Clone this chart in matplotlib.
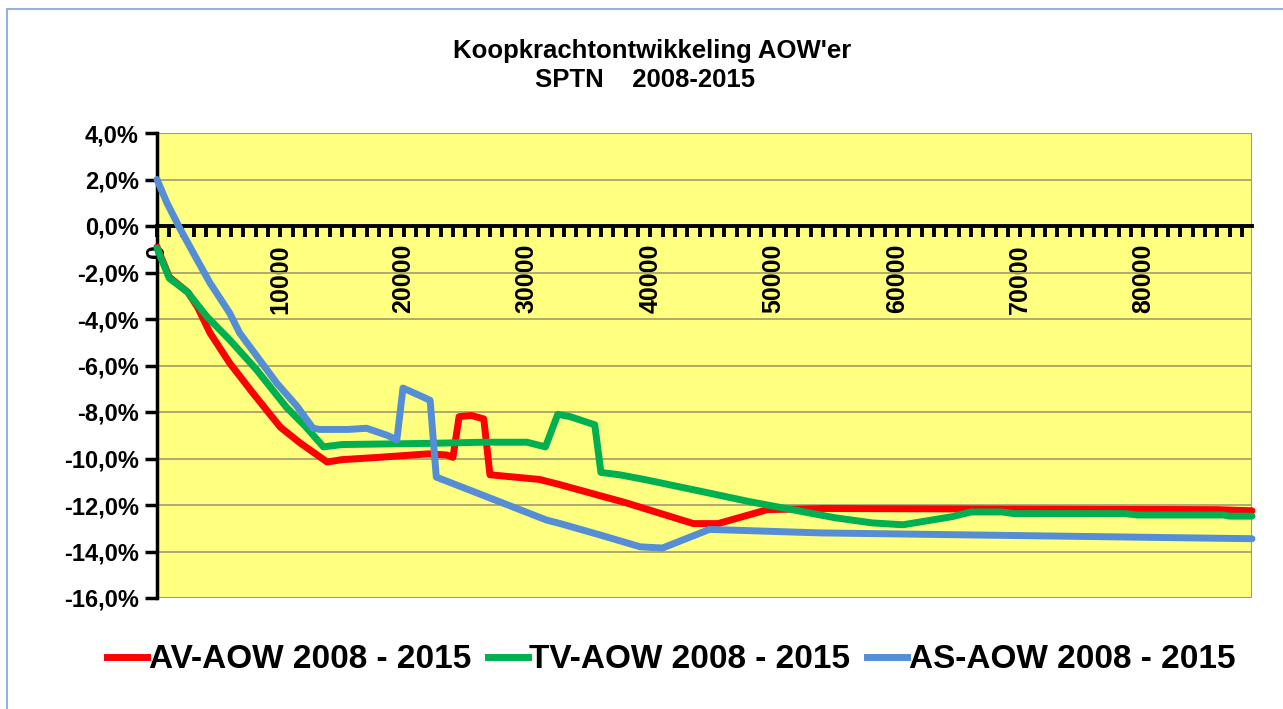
import matplotlib
matplotlib.use("Agg")
import matplotlib.pyplot as plt
from matplotlib.ticker import MultipleLocator, FixedLocator
from matplotlib.lines import Line2D
from matplotlib.patches import Rectangle

plt.rcParams['font.family'] = ['Liberation Sans', 'DejaVu Sans']

# ---------------- data ----------------
title_line1 = "Koopkrachtontwikkeling AOW'er"
title_line2 = "SPTN    2008-2015"

series_labels = ["AV-AOW 2008 - 2015", "TV-AOW 2008 - 2015", "AS-AOW 2008 - 2015"]

av_x = [0, 1000, 2500, 3300, 4300, 5900, 7800, 10000, 11600, 13800,
        15000, 18000, 22000, 23500, 24000, 24500, 25500, 26500, 27000, 31000,
        32500, 38000, 43500, 45500, 49500, 54000, 86000, 88800]
av_y = [-0.9, -2.2, -2.85, -3.5, -4.6, -5.9, -7.2, -8.65, -9.33, -10.15,
        -10.05, -9.95, -9.8, -9.85, -9.95, -8.2, -8.15, -8.3, -10.7, -10.9,
        -11.1, -11.9, -12.8, -12.8, -12.2, -12.15, -12.2, -12.25]

tv_x = [0, 1000, 2500, 3000, 4050, 5900, 8100, 10500, 12000, 13500, 15000, 22000,
        26500, 30000, 31500, 32500, 33500, 35500, 36000, 37500, 39500, 44000,
        48000, 50500, 52000, 55000, 58000, 60500, 64500, 66000, 68500, 69500,
        78500, 79500, 86500, 87000, 88800]
tv_y = [-0.95, -2.25, -2.85, -3.2, -3.9, -4.9, -6.2, -7.8, -8.6, -9.5, -9.4, -9.35,
        -9.3, -9.3, -9.5, -8.1, -8.2, -8.55, -10.6, -10.7, -10.9, -11.4,
        -11.85, -12.1, -12.25, -12.55, -12.77, -12.85, -12.5, -12.3, -12.3, -12.37,
        -12.37, -12.43, -12.43, -12.48, -12.48]

as_x = [0, 800, 1900, 3250, 4300, 5350, 5900, 6700, 8100, 9700, 11350, 12650,
        13200, 15500, 17000, 18650, 19450, 19950, 21550, 22150, 22650, 31600,
        32700, 36000, 39200, 41000, 44800, 53800, 88800]
as_y = [2.0, 1.0, -0.15, -1.45, -2.45, -3.3, -3.75, -4.6, -5.6, -6.75, -7.75, -8.7,
        -8.75, -8.75, -8.7, -9.0, -9.2, -6.97, -7.35, -7.5, -10.8, -12.65,
        -12.8, -13.3, -13.8, -13.85, -13.05, -13.2, -13.45]

y_ticks = [4, 2, 0, -2, -4, -6, -8, -10, -12, -14, -16]
x_major = [0, 10000, 20000, 30000, 40000, 50000, 60000, 70000, 80000]

colors = ['#FF0000', '#00B050', '#558ED5']

# ---------------- figure ----------------
W, H = 1283, 709
fig = plt.figure(figsize=(W / 100, H / 100), dpi=100)
fig.patch.set_facecolor('white')

# outer chart border (light blue)
fig.patches.append(Rectangle((7 / W, -0.05), 1.2, 1.05 - 9 / H, transform=fig.transFigure,
                             fill=False, edgecolor='#95B3D7', linewidth=1.5))

L, R, T, B = 157, 1252, 133, 598
ax = fig.add_axes([L / W, 1 - B / H, (R - L) / W, (B - T) / H])
ax.set_facecolor('#FFFF80')
ax.set_xlim(0, 88800)
ax.set_ylim(-16, 4)

# gridlines
ax.set_yticks(y_ticks)
ax.set_yticklabels([f"{v:.1f}%".replace('.', ',') for v in y_ticks],
                   fontsize=17, fontweight='bold')
ax.yaxis.grid(True, color='#A8A36E', linewidth=1.3)
ax.set_axisbelow(True)

# plot-area border
ax.add_patch(Rectangle((0, 0), 1, 1, transform=ax.transAxes, fill=False,
                       edgecolor='#9A9A9A', linewidth=1.5, zorder=1))

for s in ['top', 'right']:
    ax.spines[s].set_visible(False)
ax.spines['bottom'].set_position(('data', 0))
ax.spines['bottom'].set_linewidth(2.8)
ax.spines['left'].set_linewidth(2.5)

ax.xaxis.set_major_locator(FixedLocator(x_major))
ax.xaxis.set_minor_locator(MultipleLocator(1000))
ax.set_xticklabels([str(v) for v in x_major], rotation=90, fontsize=18,
                   fontweight='bold')
ax.tick_params(axis='x', which='both', direction='out', length=8, width=2.8, pad=5)
ax.tick_params(axis='y', which='major', direction='out', length=9, width=2.5, pad=4)

for xs, ys, c in zip([av_x, tv_x, as_x], [av_y, tv_y, as_y], colors):
    ax.plot(xs, ys, color=c, linewidth=5, solid_joinstyle='round',
            solid_capstyle='round', zorder=3, clip_on=False)

# titles
fig.text(652 / W, 1 - 51 / H, title_line1, ha='center', va='center',
         fontsize=18.5, fontweight='bold')
fig.text(645 / W, 1 - 80 / H, title_line2, ha='center', va='center',
         fontsize=18.5, fontweight='bold')

# legend
handles = [Line2D([], [], color=c, linewidth=5) for c in colors]
fig.legend(handles, series_labels, loc='center', bbox_to_anchor=(671 / W, 1 - 660 / H),
           ncol=3, frameon=False, prop={'size': 24, 'weight': 'bold'},
           handlelength=1.2, handletextpad=0.05, columnspacing=0.5)

fig.savefig('out.png', dpi=100)
